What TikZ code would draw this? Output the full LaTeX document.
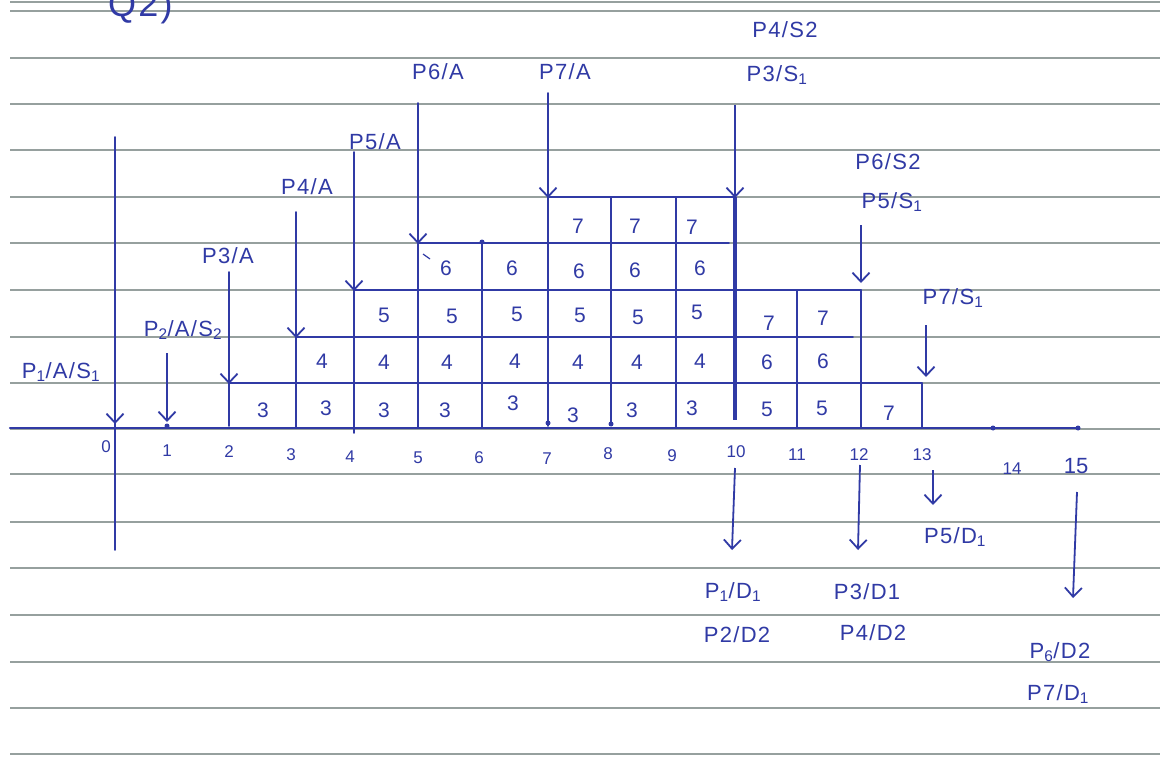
\documentclass[tikz,border=0pt]{standalone}
\usepackage{fontspec}
\setmainfont{Liberation Sans}
\newfontfamily\handfont[LetterSpace=6]{Liberation Sans}
\usetikzlibrary{arrows.meta}
\definecolor{ink}{RGB}{48,58,165}
\definecolor{rule}{RGB}{150,160,158}
\begin{document}
\begin{tikzpicture}[x=1pt,y=-1pt,
  ink/.style={draw=ink, line width=1.8pt, line cap=round},
  heavyink/.style={draw=ink, line width=3.4pt},
  thinink/.style={draw=ink, line width=1.2pt},
  arr/.style={draw=ink, line width=1.8pt, -{Straight Barb[length=9pt,width=17pt,line width=1.8pt]}},
  paper/.style={draw=rule, line width=2.4pt},
  lbl/.style={text=ink, font=\handfont\fontsize{22}{24}\selectfont, inner sep=0pt},
  cell/.style={text=ink, font=\fontsize{21}{22}\selectfont, inner sep=0pt},
  num/.style={text=ink, font=\fontsize{17}{18}\selectfont, inner sep=0pt},
  inkdot/.style={circle, fill=ink, inner sep=0pt, minimum size=5pt}]
\useasboundingbox (0,0) rectangle (1160,765);
\fill[white] (0,0) rectangle (1160,765);
% ruled paper
\foreach \y in {2,11,58,104,150,197,243,290,337,383,429,474,522,568,615,662,708,754}
  \draw[paper] (10,\y) -- (1160,\y);
% heading
\node[text=ink, font=\handfont\fontsize{36}{36}\selectfont, anchor=base west, inner sep=0pt] (title) at (108,17) {Q2)};
% axis
\coordinate (axL) at (10,428);
\coordinate (ax14) at (993,428);
\coordinate (ax15) at (1078,428);
\draw[ink, line width=2.2pt] (axL) -- (ax14);
\draw[thinink] (ax14) -- (ax15);
\node[inkdot] (d14) at (ax14) {};
\node[inkdot] (d15) at (ax15) {};
% time 0
\coordinate (v0t) at (115,137); \coordinate (v0b) at (115,550); \coordinate (v0a) at (115,424);
\draw[ink] (v0t) -- (v0b); \draw[arr] (v0t) -- (v0a);
% time 1
\coordinate (v1t) at (167,353); \coordinate (v1a) at (167,422);
\draw[arr] (v1t) -- (v1a); \node[inkdot] (d1) at (167,426) {};
% time 2
\coordinate (v2t) at (229,272); \coordinate (v2b) at (229,426); \coordinate (v2a) at (229,384);
\draw[ink] (v2t) -- (v2b); \draw[arr] (v2t) -- (v2a);
% time 3
\coordinate (v3t) at (296,212); \coordinate (v3b) at (296,428); \coordinate (v3a) at (296,338);
\draw[ink] (v3t) -- (v3b); \draw[arr] (v3t) -- (v3a);
% time 4
\coordinate (v4t) at (354,152); \coordinate (v4b) at (354,433); \coordinate (v4a) at (354,291);
\draw[ink] (v4t) -- (v4b); \draw[arr] (v4t) -- (v4a);
% time 5
\coordinate (v5t) at (418,103); \coordinate (v5b) at (418,428); \coordinate (v5a) at (418,244);
\draw[ink] (v5t) -- (v5b); \draw[arr] (v5t) -- (v5a);
\coordinate (s5a) at (423,254); \coordinate (s5b) at (430,259);
\draw[thinink] (s5a) -- (s5b);
% time 6
\coordinate (v6t) at (482,242); \coordinate (v6b) at (482,428);
\draw[ink] (v6t) -- (v6b); \node[inkdot] (d6) at (v6t) {};
% time 7
\coordinate (v7t) at (548,93); \coordinate (v7b) at (548,426); \coordinate (v7a) at (548,198);
\draw[ink] (v7t) -- (v7b); \draw[arr] (v7t) -- (v7a); \node[inkdot] (d7) at (548,423) {};
% time 8, 9
\coordinate (v8t) at (611,197); \coordinate (v8b) at (611,424);
\draw[ink] (v8t) -- (v8b); \node[inkdot] (d8) at (v8b) {};
\coordinate (v9t) at (676,197); \coordinate (v9b) at (676,428);
\draw[ink] (v9t) -- (v9b);
% time 10
\coordinate (v10t) at (735,105); \coordinate (v10m) at (735,197); \coordinate (v10b) at (735,420); \coordinate (v10a) at (735,198);
\draw[heavyink] (v10m) -- (v10b); \draw[arr] (v10t) -- (v10a);
% time 11
\coordinate (v11t) at (797,290); \coordinate (v11b) at (797,428);
\draw[ink] (v11t) -- (v11b);
% time 12
\coordinate (v12t) at (861,290); \coordinate (v12b) at (861,428);
\draw[ink] (v12t) -- (v12b);
\coordinate (a12t) at (861,225); \coordinate (a12a) at (861,283);
\draw[arr] (a12t) -- (a12a);
% time 13
\coordinate (v13t) at (922,383); \coordinate (v13b) at (922,428);
\draw[thinink] (v13t) -- (v13b);
\coordinate (a13t) at (926,325); \coordinate (a13a) at (926,377);
\draw[arr] (a13t) -- (a13a);
% queue levels
\coordinate (r1s) at (229,383); \coordinate (r1e) at (922,383);
\coordinate (r2s) at (296,337); \coordinate (r2e) at (853,337);
\coordinate (r3s) at (354,290); \coordinate (r3e) at (861,290);
\coordinate (r4s) at (418,243); \coordinate (r4e) at (729,243);
\coordinate (r5s) at (548,197); \coordinate (r5e) at (735,197);
\draw[ink, line width=2.2pt] (r1s) -- (r1e);
\draw[ink] (r2s) -- (r2e);
\draw[ink] (r3s) -- (r3e);
\draw[ink] (r4s) -- (r4e);
\draw[ink] (r5s) -- (r5e);
% departures
\coordinate (b10t) at (735,468); \coordinate (b10a) at (732,550);
\coordinate (b12t) at (860,465); \coordinate (b12a) at (858,550);
\coordinate (b13t) at (933,470); \coordinate (b13a) at (933,505);
\coordinate (b15t) at (1077,492); \coordinate (b15a) at (1073,598);
\draw[arr] (b10t) -- (b10a);
\draw[arr] (b12t) -- (b12a);
\draw[arr] (b13t) -- (b13a);
\draw[arr] (b15t) -- (b15a);
% event labels
\node[lbl] (lp1) at (61,372) {P\textsubscript{1}/A/S\textsubscript{1}};
\node[lbl] (lp2) at (183,330) {P\textsubscript{2}/A/S\textsubscript{2}};
\node[lbl] (lp3) at (228,256) {P3/A};
\node[lbl] (lp4) at (307,187) {P4/A};
\node[lbl] (lp5) at (375,142) {P5/A};
\node[lbl] (lp6) at (438,72) {P6/A};
\node[lbl] (lp7) at (565,72) {P7/A};
\node[lbl] (ls42) at (785,30) {P4/S2};
\node[lbl] (ls31) at (777,75) {P3/S\textsubscript{1}};
\node[lbl] (ls62) at (888,162) {P6/S2};
\node[lbl] (ls51) at (892,202) {P5/S\textsubscript{1}};
\node[lbl] (ls71) at (953,298) {P7/S\textsubscript{1}};
\node[lbl] (ld51) at (955,537) {P5/D\textsubscript{1}};
\node[lbl] (ld11) at (733,592) {P\textsubscript{1}/D\textsubscript{1}};
\node[lbl] (ld22) at (737,635) {P2/D2};
\node[lbl] (ld31) at (867,592) {P3/D1};
\node[lbl] (ld42) at (873,633) {P4/D2};
\node[lbl] (ld62) at (1060,652) {P\textsubscript{6}/D2};
\node[lbl] (ld71) at (1058,694) {P7/D\textsubscript{1}};
% axis numbers
\node[num] (n0) at (106,447) {0};
\node[num] (n1) at (167,451) {1};
\node[num] (n2) at (229,452) {2};
\node[num] (n3) at (291,455) {3};
\node[num] (n4) at (350,457) {4};
\node[num] (n5) at (418,458) {5};
\node[num] (n6) at (479,458) {6};
\node[num] (n7) at (547,459) {7};
\node[num] (n8) at (608,454) {8};
\node[num] (n9) at (672,456) {9};
\node[num] (n10) at (736,452) {10};
\node[num] (n11) at (797,455) {11};
\node[num] (n12) at (859,455) {12};
\node[num] (n13) at (922,455) {13};
\node[num] (n14) at (1012,469) {14};
\node[num, font=\fontsize{22}{22}\selectfont] (n15) at (1076,466) {15};
% row 1
\node[cell] (c1a) at (263,410) {3};
\node[cell] (c1b) at (326,408) {3};
\node[cell] (c1c) at (384,410) {3};
\node[cell] (c1d) at (445,410) {3};
\node[cell] (c1e) at (513,403) {3};
\node[cell] (c1f) at (573,415) {3};
\node[cell] (c1g) at (632,410) {3};
\node[cell] (c1h) at (692,408) {3};
\node[cell] (c1i) at (767,409) {5};
\node[cell] (c1j) at (822,408) {5};
\node[cell] (c1k) at (889,413) {7};
% row 2
\node[cell] (c2a) at (322,361) {4};
\node[cell] (c2b) at (384,362) {4};
\node[cell] (c2c) at (447,362) {4};
\node[cell] (c2d) at (515,361) {4};
\node[cell] (c2e) at (578,362) {4};
\node[cell] (c2f) at (637,362) {4};
\node[cell] (c2g) at (700,361) {4};
\node[cell] (c2h) at (767,362) {6};
\node[cell] (c2i) at (823,361) {6};
% row 3
\node[cell] (c3a) at (384,315) {5};
\node[cell] (c3b) at (452,316) {5};
\node[cell] (c3c) at (517,314) {5};
\node[cell] (c3d) at (580,315) {5};
\node[cell] (c3e) at (638,317) {5};
\node[cell] (c3f) at (697,312) {5};
\node[cell] (c3g) at (769,323) {7};
\node[cell] (c3h) at (823,318) {7};
% row 4
\node[cell] (c4a) at (446,268) {6};
\node[cell] (c4b) at (512,268) {6};
\node[cell] (c4c) at (579,271) {6};
\node[cell] (c4d) at (635,270) {6};
\node[cell] (c4e) at (700,268) {6};
% row 5
\node[cell] (c5a) at (578,226) {7};
\node[cell] (c5b) at (635,226) {7};
\node[cell] (c5c) at (692,227) {7};
\end{tikzpicture}
\end{document}
